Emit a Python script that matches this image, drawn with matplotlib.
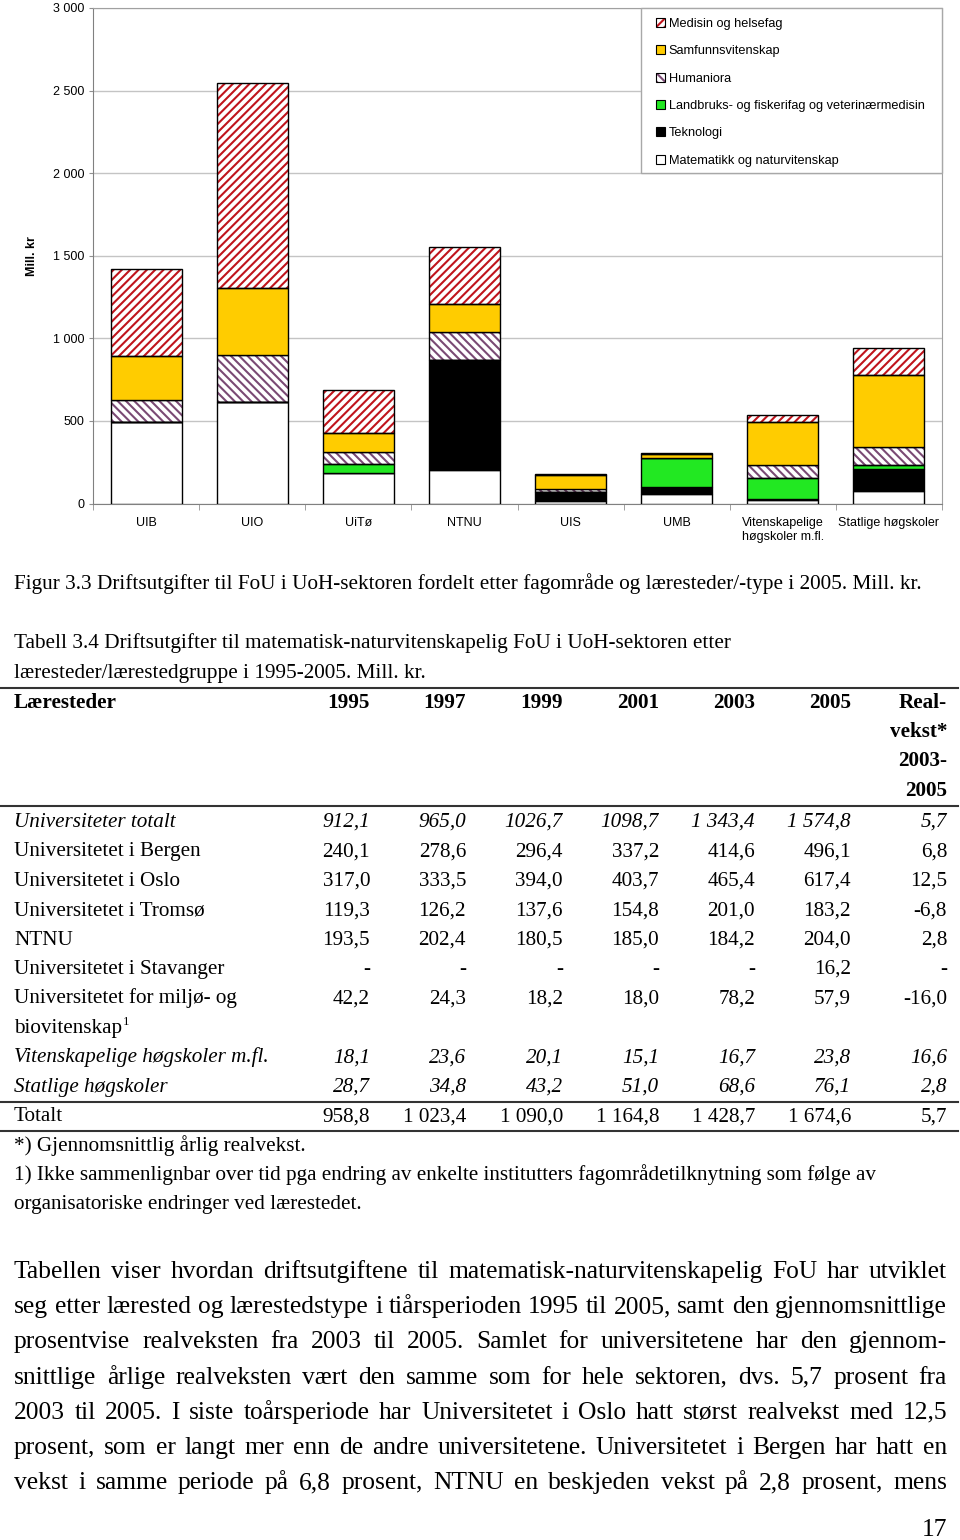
import matplotlib
matplotlib.use("Agg")
import matplotlib.pyplot as plt
from matplotlib.patches import Patch, Rectangle
from matplotlib.lines import Line2D
from matplotlib.ticker import FuncFormatter, FixedLocator
import numpy as np

W, H = 960, 1540
SANS = ['Liberation Sans', 'DejaVu Sans']
SERIF = ['Liberation Serif', 'DejaVu Serif']
plt.rcParams['font.family'] = SANS
plt.rcParams['hatch.linewidth'] = 1.5

# --- figur 3.3: stablede stolper (mill. kr, 2005) ---
steder = ["UIB", "UIO", "UiTø", "NTNU", "UIS", "UMB",
          "Vitenskapelige\nhøgskoler m.fl.", "Statlige høgskoler"]
mat = [496, 617, 183, 204, 16, 58, 24, 76]
tek = [0, 0, 0, 666, 52, 40, 6, 131]
landbruk = [0, 0, 54, 0, 0, 179, 127, 28]
hum = [133, 281, 75, 166, 22, 0, 77, 109]
samf = [262, 408, 115, 173, 81, 22, 262, 435]
med = [531, 1238, 260, 345, 9, 6, 40, 162]

# --- tabell 3.4 ---
aar = ["1995", "1997", "1999", "2001", "2003", "2005"]
realvekst_hode = ["Real-", "vekst*", "2003-", "2005"]
rader = ["Universiteter totalt", "Universitetet i Bergen", "Universitetet i Oslo",
         "Universitetet i Tromsø", "NTNU", "Universitetet i Stavanger",
         "Universitetet for miljø- og", "Vitenskapelige høgskoler m.fl.",
         "Statlige høgskoler", "Totalt"]
verdier = [
    ["912,1", "965,0", "1026,7", "1098,7", "1 343,4", "1 574,8", "5,7"],
    ["240,1", "278,6", "296,4", "337,2", "414,6", "496,1", "6,8"],
    ["317,0", "333,5", "394,0", "403,7", "465,4", "617,4", "12,5"],
    ["119,3", "126,2", "137,6", "154,8", "201,0", "183,2", "-6,8"],
    ["193,5", "202,4", "180,5", "185,0", "184,2", "204,0", "2,8"],
    ["-", "-", "-", "-", "-", "16,2", "-"],
    ["42,2", "24,3", "18,2", "18,0", "78,2", "57,9", "-16,0"],
    ["18,1", "23,6", "20,1", "15,1", "16,7", "23,8", "16,6"],
    ["28,7", "34,8", "43,2", "51,0", "68,6", "76,1", "2,8"],
    ["958,8", "1 023,4", "1 090,0", "1 164,8", "1 428,7", "1 674,6", "5,7"],
]
kursiv = [0, 7, 8]

figurtekst = "Figur 3.3 Driftsutgifter til FoU i UoH-sektoren fordelt etter fagområde og læresteder/-type i 2005. Mill. kr."
tabelltittel = ["Tabell 3.4 Driftsutgifter til matematisk-naturvitenskapelig FoU i UoH-sektoren etter",
                "læresteder/lærestedgruppe i 1995-2005. Mill. kr."]
fotnoter = ["*) Gjennomsnittlig årlig realvekst.",
            "1) Ikke sammenlignbar over tid pga endring av enkelte institutters fagområdetilknytning som følge av",
            "organisatoriske endringer ved lærestedet."]
avsnitt = [
    "Tabellen viser hvordan driftsutgiftene til matematisk-naturvitenskapelig FoU har utviklet",
    "seg etter lærested og lærestedstype i tiårsperioden 1995 til 2005, samt den gjennomsnittlige",
    "prosentvise realveksten fra 2003 til 2005. Samlet for universitetene har den gjennom-",
    "snittlige årlige realveksten vært den samme som for hele sektoren, dvs. 5,7 prosent fra",
    "2003 til 2005. I siste toårsperiode har Universitetet i Oslo hatt størst realvekst med 12,5",
    "prosent, som er langt mer enn de andre universitetene. Universitetet i Bergen har hatt en",
    "vekst i samme periode på 6,8 prosent, NTNU en beskjeden vekst på 2,8 prosent, mens",
]

fig = plt.figure(figsize=(W / 100, H / 100), dpi=100)
AX_L, AX_R, AX_T, AX_B = 93, 942, 8, 503.5
ax = fig.add_axes([AX_L / W, 1 - AX_B / H, (AX_R - AX_L) / W, (AX_B - AX_T) / H])

RED, PURPLE, YELLOW, GREEN = '#C0141C', '#7A4A74', '#FFCC00', '#22E822'
serier = [
    ("Matematikk og naturvitenskap", mat, 'white', None, None),
    ("Teknologi", tek, 'black', None, None),
    ("Landbruks- og fiskerifag og veterinærmedisin", landbruk, GREEN, None, None),
    ("Humaniora", hum, 'white', PURPLE, '\\\\\\\\'),
    ("Samfunnsvitenskap", samf, YELLOW, None, None),
    ("Medisin og helsefag", med, 'white', RED, '////'),
]
x = np.arange(len(steder))
bw = 0.67
bunn = np.zeros(len(x))
handles = []
for navn, vals, fc, hc, hatch in serier:
    vals = np.array(vals, float)
    if hatch:
        ax.bar(x, vals, bw, bottom=bunn, facecolor=fc, edgecolor=hc, hatch=hatch,
               linewidth=0, zorder=2)
        ax.bar(x, vals, bw, bottom=bunn, fill=False, edgecolor='black', linewidth=1, zorder=3)
        handles.append((Patch(facecolor=fc, edgecolor=hc, hatch=hatch, linewidth=0),
                        Patch(facecolor='none', edgecolor='black', linewidth=0.8)))
    else:
        ax.bar(x, vals, bw, bottom=bunn, color=fc, edgecolor='black', linewidth=1, zorder=3)
        handles.append(Patch(facecolor=fc, edgecolor='black', linewidth=0.8))
    bunn += vals

ax.set_xlim(-0.5, len(x) - 0.5)
ax.set_ylim(0, 3000)
ax.set_yticks(np.arange(0, 3001, 500))
ax.yaxis.set_major_formatter(FuncFormatter(lambda v, p: f"{v:,.0f}".replace(",", " ")))
ax.yaxis.grid(True, color='#C4C4C4', linewidth=1)
ax.set_axisbelow(True)
ax.set_xticks(x)
ax.set_xticklabels(steder, fontsize=9)
ax.xaxis.set_minor_locator(FixedLocator(np.arange(-0.5, len(x), 1.0)))
ax.tick_params(axis='x', which='major', length=0, pad=10)
ax.tick_params(axis='x', which='minor', length=4, color='#909090')
ax.tick_params(axis='y', length=3, color='#909090', labelsize=9, pad=3)
for sp in ax.spines.values():
    sp.set_color('#A0A0A0')
ax.spines['left'].set_color('#808080')
ax.spines['bottom'].set_color('#808080')
ax.set_ylabel("Mill. kr", fontsize=9, fontweight='bold')
ax.yaxis.set_label_coords(-0.065, 0.5)

# legende: ramme for seg, innhold plassert inni
def axfrac(px, py):
    return (px - AX_L) / (AX_R - AX_L), (AX_B - py) / (AX_B - AX_T)

fx0, fy0 = axfrac(641, 173)
ax.add_patch(Rectangle((fx0, fy0), 1 - fx0, 1 - fy0, transform=ax.transAxes,
                       facecolor='white', edgecolor='#A8A8A8', linewidth=1,
                       zorder=4, clip_on=False))
leg = ax.legend(handles[::-1], [s[0] for s in serier][::-1], loc='upper left',
                bbox_to_anchor=axfrac(656, 18), borderaxespad=0, fontsize=9.2,
                frameon=False, handlelength=0.7, handleheight=0.7,
                handletextpad=0.3, labelspacing=1.2, borderpad=0)
leg.set_zorder(5)

# --- tekst ---
r = fig.canvas.get_renderer()


def put(px, py, s, **kw):
    return fig.text(px / W, 1 - py / H, s, va='baseline', **kw)


def bredde(s, **kw):
    t = put(0, 0, s, **kw)
    w = t.get_window_extent(r).width
    t.remove()
    return w


def strek(py, lw=1.5):
    fig.add_artist(Line2D([0 / W, 958 / W], [1 - py / H, 1 - py / H], color='#333333',
                          linewidth=lw, transform=fig.transFigure))


cs = 10 * 909 / bredde(figurtekst, fontsize=10, family=SERIF)
put(14, 589, figurtekst, fontsize=cs, family=SERIF)
for i, linje in enumerate(tabelltittel):
    put(14, 648 + 30 * i, linje, fontsize=cs, family=SERIF)

ts = 10 * 187 / bredde("Universitetet i Bergen", fontsize=10, family=SERIF)
kol = [370, 466, 563, 659, 755, 851, 947]
strek(687.5)
put(14, 708, "Læresteder", fontsize=ts, family=SERIF, fontweight='bold')
for k, a in zip(kol, aar):
    put(k, 708, a, fontsize=ts, family=SERIF, fontweight='bold', ha='right')
for i, s in enumerate(realvekst_hode):
    put(kol[-1], 708 + 29.2 * i, s, fontsize=ts, family=SERIF, fontweight='bold', ha='right')
strek(806)

y0, dy = 826.7, 29.45
k = 0
for i, (navn, rad) in enumerate(zip(rader, verdier)):
    stil = 'italic' if i in kursiv else 'normal'
    yb = y0 + dy * k
    if navn == "Totalt":
        strek(yb - 19.5)
        strek(yb + 9.5)
    put(14, yb, navn, fontsize=ts, family=SERIF, style=stil)
    for kx, v in zip(kol, rad):
        put(kx, yb, v, fontsize=ts, family=SERIF, style=stil, ha='right')
    k += 1
    if navn.startswith("Universitetet for"):
        yb = y0 + dy * k
        put(14, yb, "biovitenskap", fontsize=ts, family=SERIF)
        wb = bredde("biovitenskap", fontsize=ts, family=SERIF)
        put(14 + wb + 1, yb - 8, "1", fontsize=ts * 0.6, family=SERIF)
        k += 1

for i, s in enumerate(fotnoter):
    put(14, 1151.5 + 28.5 * i, s, fontsize=ts, family=SERIF)

# avsnitt, blokkjustert
ps = min(10 * 933 / bredde(l, fontsize=10, family=SERIF) for l in avsnitt)
for i, linje in enumerate(avsnitt):
    ordene = linje.split()
    ws = [bredde(o, fontsize=ps, family=SERIF) for o in ordene]
    gap = (947 - 14 - sum(ws)) / (len(ordene) - 1)
    xp = 14
    for o, w in zip(ordene, ws):
        put(xp, 1278 + 35.2 * i, o, fontsize=ps, family=SERIF)
        xp += w + gap

put(947, 1536, "17", fontsize=ps, family=SERIF, ha='right')

fig.savefig("out.png", dpi=100)
